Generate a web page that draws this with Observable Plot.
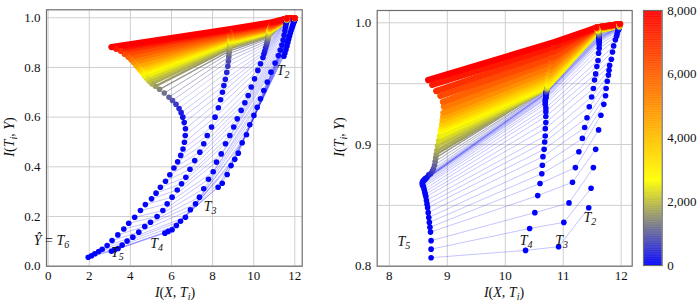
<!DOCTYPE html>
<html><head><meta charset="utf-8">
<script src="https://cdn.jsdelivr.net/npm/d3@7"></script>
<script src="https://cdn.jsdelivr.net/npm/@observablehq/plot@0.6"></script>
<style>
body{margin:0;background:#fff;}
#wrap{position:relative;width:700px;height:305px;overflow:hidden;}
#wrap > div{position:absolute;top:0;}
#wrap svg{overflow:visible;font-family:"Liberation Serif",serif !important;}
#wrap svg text{font-family:"Liberation Serif",serif !important;}
</style></head><body>
<div id="wrap"><div id="L" style="left:0"></div><div id="R" style="left:330px"></div><div id="C" style="left:640px"></div></div>
<script>
// ---------- data ----------
const epochs = [0,4,8,12,16,20,24,28,32,36,40,44,48,52,56,60,64,68,72,76,80,84,88,92,96,100,
  150,250,400,600,800,1000,1200,1400,1600,1800,2000,2250,2500,2750,3000,3350,3700,4100,4500,5000,5500,6000,6500,7000,7500,8000];

const leftLayers = ["T6","T5","T4","T3","T2"];
const leftT6 = [[1.95,0.036],[2.11,0.042],[2.27,0.050],[2.46,0.059],[2.63,0.068],[2.87,0.083],[3.11,0.103],[3.39,0.126],[3.68,0.150],[3.92,0.173],[4.21,0.197],[4.49,0.224],[4.73,0.248],[5.03,0.271],[5.25,0.294],[5.46,0.318],[5.71,0.342],[5.92,0.368],[6.12,0.395],[6.30,0.420],[6.45,0.446],[6.56,0.472],[6.63,0.499],[6.67,0.526],[6.68,0.553],[6.62,0.578],
  [6.55,0.600],[6.47,0.618],[6.37,0.635],[6.22,0.652],[6.05,0.667],[5.88,0.680],[5.65,0.697],[5.42,0.712],[5.22,0.724],[5.05,0.734],[4.92,0.744],[4.80,0.755],[4.70,0.766],[4.62,0.777],[4.57,0.782],[4.50,0.789],[4.44,0.795],[4.36,0.803],[4.28,0.810],[4.17,0.821],[4.04,0.832],[3.90,0.843],[3.72,0.855],[3.53,0.867],[3.31,0.875],[3.08,0.882]];
const leftT5 = [[3.08,0.060],[3.24,0.066],[3.40,0.071],[3.60,0.085],[3.84,0.101],[4.12,0.117],[4.41,0.137],[4.70,0.160],[4.98,0.177],[5.30,0.200],[5.58,0.224],[5.79,0.251],[6.03,0.278],[6.28,0.307],[6.49,0.332],[6.70,0.358],[6.90,0.390],[7.13,0.425],[7.38,0.459],[7.57,0.493],[7.74,0.526],[7.95,0.560],[8.12,0.600],[8.28,0.638],[8.39,0.670],[8.48,0.700],
  [8.55,0.727],[8.62,0.752],[8.69,0.780],[8.74,0.805],[8.77,0.825],[8.79,0.842],[8.80,0.856],[8.81,0.866],[8.82,0.875],[8.83,0.882],[8.84,0.889],[8.85,0.896],[8.86,0.903],[8.87,0.909],[8.87,0.911],[8.875,0.913],[8.877,0.916],[8.88,0.919],[8.88,0.922],[8.877,0.926],[8.873,0.930],[8.87,0.935],[8.85,0.940],[8.82,0.945],[8.77,0.948],[8.71,0.952]];
const leftT4 = [[5.68,0.133],[5.84,0.140],[6.03,0.147],[6.24,0.164],[6.44,0.181],[6.68,0.197],[6.92,0.227],[7.17,0.251],[7.36,0.278],[7.57,0.312],[7.80,0.350],[8.03,0.380],[8.19,0.419],[8.42,0.452],[8.63,0.493],[8.84,0.526],[9.03,0.560],[9.20,0.593],[9.39,0.627],[9.57,0.658],[9.73,0.687],[9.88,0.721],[10.04,0.754],[10.20,0.788],[10.33,0.815],[10.45,0.840],
  [10.50,0.855],[10.54,0.866],[10.58,0.878],[10.62,0.889],[10.65,0.899],[10.67,0.907],[10.69,0.914],[10.70,0.920],[10.71,0.926],[10.72,0.931],[10.73,0.936],[10.74,0.941],[10.75,0.945],[10.76,0.949],[10.765,0.950],[10.77,0.952],[10.777,0.954],[10.785,0.956],[10.79,0.958],[10.80,0.960],[10.81,0.963],[10.82,0.966],[10.835,0.970],[10.85,0.974],[10.865,0.978],[10.88,0.982]];
const leftT3 = [[8.27,0.318],[8.47,0.334],[8.71,0.369],[8.90,0.405],[9.08,0.430],[9.25,0.455],[9.44,0.497],[9.65,0.529],[9.81,0.569],[10.01,0.607],[10.17,0.640],[10.33,0.674],[10.49,0.707],[10.66,0.741],[10.84,0.781],[11.04,0.818],[11.20,0.848],[11.29,0.870],[11.37,0.890],[11.43,0.910],[11.48,0.930],[11.52,0.948],[11.55,0.962],[11.57,0.972],[11.59,0.980],[11.60,0.985],
  [11.60,0.987],[11.60,0.988],[11.61,0.989],[11.61,0.990],[11.61,0.990],[11.61,0.991],[11.61,0.991],[11.61,0.992],[11.61,0.992],[11.61,0.993],[11.61,0.993],[11.61,0.993],[11.61,0.994],[11.61,0.994],[11.61,0.994],[11.61,0.995],[11.61,0.995],[11.61,0.995],[11.61,0.995],[11.61,0.996],[11.61,0.996],[11.61,0.996],[11.61,0.996],[11.61,0.997],[11.61,0.997],[11.61,0.997]];
const leftT2 = [[11.47,0.845],[11.52,0.858],[11.57,0.872],[11.62,0.886],[11.66,0.900],[11.70,0.913],[11.74,0.926],[11.78,0.938],[11.82,0.949],[11.86,0.959],[11.89,0.967],[11.92,0.974],[11.94,0.980],[11.96,0.984],[11.97,0.987],[11.98,0.989],[11.98,0.991],[11.99,0.992],[11.99,0.993],[11.99,0.994],[12.00,0.994],[12.00,0.995],[12.00,0.995],[12.00,0.996],[12.00,0.996],[12.00,0.996],
  [12.00,0.997],[12.00,0.997],[12.00,0.997],[12.00,0.997],[12.00,0.997],[12.00,0.997],[12.00,0.997],[12.00,0.997],[12.00,0.997],[12.00,0.998],[12.00,0.998],[12.00,0.998],[12.00,0.998],[12.00,0.998],[12.00,0.998],[12.00,0.998],[12.00,0.998],[12.00,0.998],[12.00,0.999],[12.00,0.999],[12.00,0.999],[12.00,0.999],[12.00,0.999],[12.00,0.999],[12.00,0.999],[12.00,0.999]];

const rightLayers = ["T5","T4","T3","T2"];
const rightT5 = [[8.72,0.807],[8.72,0.814],[8.72,0.821],[8.71,0.828],[8.70,0.832],[8.69,0.836],[8.68,0.840],[8.67,0.844],[8.66,0.848],[8.65,0.851],[8.64,0.854],[8.63,0.857],[8.62,0.859],[8.61,0.861],[8.60,0.863],[8.59,0.865],[8.58,0.866],[8.57,0.867],[8.57,0.868],[8.57,0.869],[8.58,0.870],[8.59,0.870],[8.60,0.871],[8.61,0.871],[8.62,0.872],[8.63,0.872],
  [8.65,0.873],[8.68,0.875],[8.71,0.876],[8.74,0.878],[8.76,0.880],[8.78,0.883],[8.79,0.886],[8.80,0.889],[8.81,0.892],[8.82,0.895],[8.83,0.899],[8.85,0.903],[8.87,0.907],[8.89,0.911],[8.90,0.913],[8.91,0.915],[8.915,0.917],[8.92,0.920],[8.93,0.923],[8.933,0.926],[8.94,0.931],[8.925,0.935],[8.88,0.940],[8.81,0.944],[8.74,0.949],[8.67,0.953]];
const rightT4 = [[10.35,0.813],[10.42,0.831],[10.51,0.844],[10.56,0.858],[10.60,0.868],[10.63,0.876],[10.64,0.883],[10.65,0.890],[10.67,0.896],[10.68,0.902],[10.69,0.907],[10.69,0.913],[10.70,0.918],[10.70,0.923],[10.70,0.927],[10.70,0.930],[10.69,0.933],[10.69,0.935],[10.69,0.937],[10.70,0.938],[10.70,0.939],[10.70,0.940],[10.70,0.941],[10.70,0.941],[10.70,0.942],[10.70,0.942],
  [10.70,0.942],[10.71,0.943],[10.71,0.943],[10.71,0.944],[10.71,0.944],[10.72,0.945],[10.72,0.945],[10.72,0.946],[10.72,0.946],[10.72,0.946],[10.72,0.946],[10.73,0.947],[10.73,0.948],[10.73,0.949],[10.735,0.950],[10.74,0.952],[10.745,0.954],[10.75,0.956],[10.76,0.958],[10.77,0.961],[10.78,0.964],[10.79,0.968],[10.80,0.971],[10.815,0.976],[10.83,0.980],[10.84,0.984]];
const rightT3 = [[10.92,0.816],[11.01,0.836],[11.10,0.852],[11.16,0.869],[11.21,0.881],[11.27,0.894],[11.33,0.905],[11.37,0.914],[11.41,0.922],[11.45,0.931],[11.49,0.939],[11.52,0.946],[11.54,0.953],[11.56,0.958],[11.58,0.964],[11.60,0.969],[11.61,0.975],[11.62,0.979],[11.62,0.982],[11.62,0.984],[11.62,0.985],[11.62,0.986],[11.62,0.986],[11.62,0.987],[11.62,0.987],[11.62,0.988],
  [11.62,0.988],[11.62,0.989],[11.62,0.989],[11.62,0.990],[11.62,0.990],[11.61,0.991],[11.61,0.991],[11.61,0.992],[11.61,0.992],[11.60,0.993],[11.60,0.993],[11.60,0.993],[11.60,0.994],[11.59,0.994],[11.59,0.994],[11.59,0.995],[11.59,0.995],[11.58,0.995],[11.58,0.995],[11.58,0.996],[11.58,0.996],[11.57,0.996],[11.57,0.996],[11.57,0.996],[11.57,0.996],[11.57,0.996]];
const rightT2 = [[11.44,0.848],[11.48,0.864],[11.52,0.881],[11.56,0.896],[11.61,0.912],[11.65,0.924],[11.70,0.933],[11.73,0.940],[11.74,0.946],[11.76,0.952],[11.78,0.957],[11.79,0.961],[11.80,0.965],[11.83,0.970],[11.85,0.976],[11.87,0.981],[11.90,0.986],[11.92,0.989],[11.93,0.991],[11.94,0.993],[11.95,0.994],[11.95,0.995],[11.96,0.995],[11.96,0.996],[11.96,0.996],[11.96,0.996],
  [11.96,0.996],[11.96,0.996],[11.96,0.996],[11.96,0.996],[11.97,0.997],[11.97,0.997],[11.97,0.997],[11.97,0.997],[11.97,0.997],[11.97,0.997],[11.97,0.997],[11.97,0.997],[11.97,0.998],[11.97,0.998],[11.97,0.998],[11.97,0.998],[11.97,0.998],[11.97,0.998],[11.97,0.998],[11.97,0.998],[11.98,0.999],[11.98,0.999],[11.98,0.999],[11.98,0.999],[11.98,0.999],[11.98,0.999]];

const leftXTicks = [0,2,4,6,8,10,12];
const leftYTicks = [0,0.2,0.4,0.6,0.8,1.0];
const rightXTicks = [8,9,10,11,12];
const rightYTicks = [0.8,0.9,1.0];
const rightYGrid = [0.8,0.85,0.9,0.95,1.0];
const colorbarTicks = [0,2000,4000,6000,8000];

// layer labels: [text, subscript, x, y]
const leftLabels = [["T","2",11.46,0.769],["T","3",7.90,0.220],["T","4",5.30,0.070],["T","5",3.39,0.036],["Ŷ = T","6",0.19,0.083]];
const rightLabels = [["T","5",8.26,0.816],["T","4",10.37,0.817],["T","3",10.98,0.817],["T","2",11.47,0.836]];

// ---------- helpers ----------
const FONT = "Liberation Serif, serif";
const colorOpts = {type:"linear", domain:[0, 8000/3, 8000], range:["#0000ff","#ffff00","#ff0000"], interpolate:"rgb"};

function build(arrays) {
  const rows = [];
  epochs.forEach((e, i) => arrays.forEach((arr, k) => rows.push({epoch: e, order: k, x: arr[i][0], y: arr[i][1]})));
  return rows;
}
const clamp = v => Math.max(0, Math.min(1, v));
const lineWidth = e => 0.9 + 5.3 * clamp((e - 1300) / 1200);
const lineOpacity = e => 0.26 + 0.74 * clamp((e - 600) / 1000);

function panel(rows, o) {
  return Plot.plot({
    width: 310, height: 305,
    marginLeft: o.ml, marginRight: o.mr, marginTop: o.mt, marginBottom: o.mb,
    style: {fontFamily: FONT, fontSize: "13px", background: "transparent", color: "#111"},
    x: {domain: o.xd, ticks: o.xt, tickSize: 0, tickPadding: 5, label: null, tickFormat: d3.format("d")},
    y: {domain: o.yd, ticks: o.yt, tickSize: 0, tickPadding: 6, label: null, tickFormat: d3.format(".1f")},
    color: colorOpts,
    marks: [
      Plot.ruleX(o.xg, {stroke: "#cfcfcf", strokeWidth: 1}),
      Plot.ruleY(o.yg, {stroke: "#cfcfcf", strokeWidth: 1}),
      Plot.line(rows, {x: "x", y: "y", z: "epoch", stroke: "epoch",
        strokeWidth: d => lineWidth(d.epoch), strokeOpacity: d => lineOpacity(d.epoch), strokeLinejoin: "round"}),
      Plot.dot(rows, {x: "x", y: "y", fill: "epoch", r: 2.8}),
      Plot.frame({stroke: "#6e6e6e", strokeWidth: 1.2})
    ]
  });
}

function scaleFn(plot, name) {
  const s = plot.scale(name);
  if (s && typeof s.apply === "function") return v => s.apply(v);
  return d3.scaleLinear(s.domain, s.range);
}

function addMath(svg, x, y, parts, rotate) {
  const t = d3.select(svg).append("text")
    .attr("font-family", FONT).attr("font-size", 14).attr("fill", "#111")
    .attr("text-anchor", "middle");
  if (rotate) t.attr("transform", `translate(${x},${y}) rotate(-90)`);
  else t.attr("x", x).attr("y", y);
  let shifted = false;
  parts.forEach(([txt, st]) => {
    const ts = t.append("tspan").text(txt);
    if (st === "i") ts.attr("font-style", "italic");
    if (st === "sub") { ts.attr("font-style", "italic").attr("font-size", 10).attr("dy", 3); shifted = true; }
    else if (shifted) { ts.attr("dy", -3); shifted = false; }
  });
}
const xLabelParts = [["I","i"],["(","n"],["X","i"],[", ","n"],["T","i"],["i","sub"],[")","n"]];
const yLabelParts = [["I","i"],["(","n"],["T","i"],["i","sub"],[", ","n"],["Y","i"],[")","n"]];

function addLayerLabels(plot, labels) {
  const sx = scaleFn(plot, "x"), sy = scaleFn(plot, "y");
  labels.forEach(([main, sub, x, y]) => {
    const t = d3.select(plot).append("text")
      .attr("font-family", FONT).attr("font-size", 14).attr("fill", "#111")
      .attr("x", sx(x)).attr("y", sy(y));
    if (main.length > 1) {
      t.append("tspan").attr("font-style", "italic").text("Ŷ");
      t.append("tspan").text(" = ");
      t.append("tspan").attr("font-style", "italic").text("T");
    } else {
      t.append("tspan").attr("font-style", "italic").text(main);
    }
    t.append("tspan").attr("font-style", "italic").attr("font-size", 10).attr("dy", 3).text(sub);
  });
}

// ---------- left panel ----------
const leftRows = build([leftT6, leftT5, leftT4, leftT3, leftT2]);
const left = panel(leftRows, {ml: 46, mr: 8.3, mt: 9.3, mb: 39.3, xd: [-0.08, 12.36], yd: [0, 1.032],
  xt: leftXTicks, yt: leftYTicks, xg: leftXTicks, yg: leftYTicks});
addLayerLabels(left, leftLabels);
addMath(left, 175, 297, xLabelParts, false);
addMath(left, 14, 137, yLabelParts, true);
document.getElementById("L").appendChild(left);

// ---------- right panel ----------
const rightRows = build([rightT5, rightT4, rightT3, rightT2]);
const right = panel(rightRows, {ml: 46.7, mr: 8.3, mt: 10, mb: 39.3, xd: [7.79, 12.19], yd: [0.8, 1.0101],
  xt: rightXTicks, yt: rightYTicks, xg: rightXTicks, yg: rightYGrid});
addLayerLabels(right, rightLabels);
addMath(right, 174, 297, xLabelParts, false);
addMath(right, 14, 137, yLabelParts, true);
document.getElementById("R").appendChild(right);

// ---------- colorbar ----------
const cbStep = 20;
const cbCells = d3.range(0, 8000, cbStep);
const cbar = Plot.plot({
  width: 60, height: 305, marginLeft: 3, marginRight: 38.3, marginTop: 10, marginBottom: 40,
  style: {fontFamily: FONT, fontSize: "13px", background: "transparent", color: "#111"},
  x: {domain: [0, 1], axis: null},
  y: {domain: [0, 8000], ticks: colorbarTicks, tickFormat: d3.format(","), axis: "right", tickSize: 0, tickPadding: 5, label: null},
  color: colorOpts,
  marks: [
    Plot.rect(cbCells, {x1: 0, x2: 1, y1: d => d, y2: d => Math.min(8000, d + cbStep * 1.5), fill: d => d + cbStep / 2}),
    Plot.frame({stroke: "#6e6e6e", strokeWidth: 1.2})
  ]
});
document.getElementById("C").appendChild(cbar);
</script>
</body></html>
